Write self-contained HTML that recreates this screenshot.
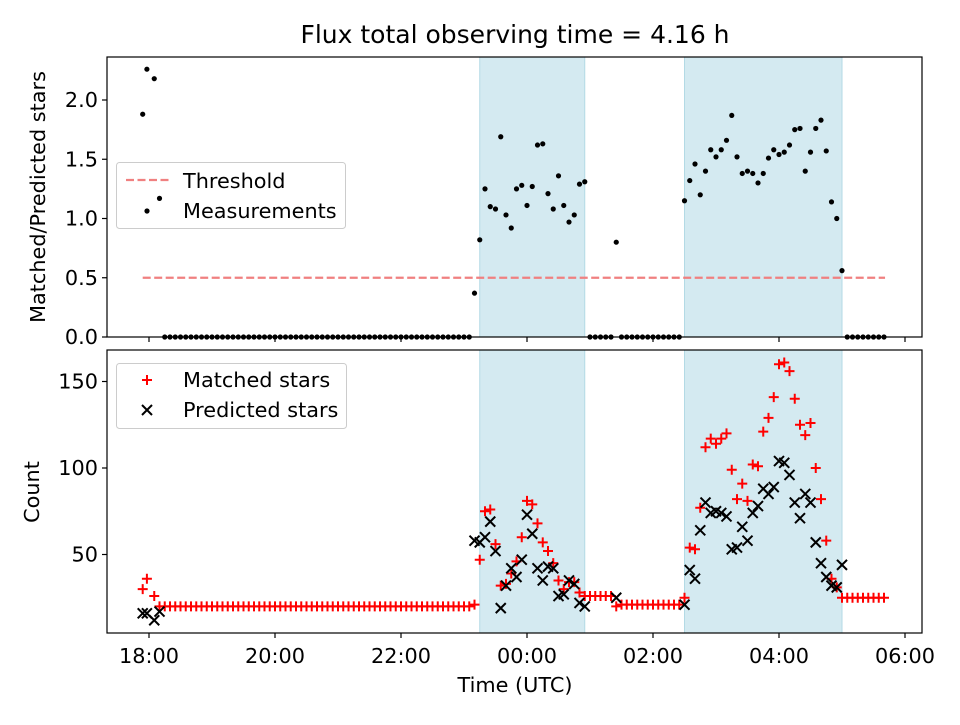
<!DOCTYPE html>
<html><head><meta charset="utf-8"><style>
html,body{margin:0;padding:0;background:#fff;}
svg text{font-family:"DejaVu Sans","Liberation Sans",sans-serif;}
</style></head><body>
<svg id="fig" width="960" height="720" xmlns="http://www.w3.org/2000/svg"></svg>
<script>
// time in minutes since 18:00 UTC
const measTimes = [-6,-2,5,10,
15,20,25,30,35,40,45,50,55,60,
65,70,75,80,85,90,95,100,105,110,
115,120,125,130,135,140,145,150,155,160,
165,170,175,180,185,190,195,200,205,210,
215,220,225,230,235,240,245,250,255,260,
265,270,275,280,285,290,295,300,305,
310,315,320,325,330,335,340,345,350,355,
360,365,370,375,380,385,390,395,400,405,
410,415,
420,425,430,435,440,445,450,455,460,465,
470,475,480,485,490,495,500,505,
510,515,520,525,530,535,540,545,550,555,
560,565,570,575,580,585,590,595,600,605,
610,615,620,625,630,635,640,645,650,655,
660,
665,670,675,680,685,690,695,700];
const ratioVals = [1.88,2.26,2.18,1.17,
0,0,0,0,0,0,0,0,0,0,
0,0,0,0,0,0,0,0,0,0,
0,0,0,0,0,0,0,0,0,0,
0,0,0,0,0,0,0,0,0,0,
0,0,0,0,0,0,0,0,0,0,
0,0,0,0,0,0,0,0,0,
0.37,0.82,1.25,1.10,1.08,1.69,1.03,0.92,1.25,1.28,
1.11,1.27,1.62,1.63,1.21,1.08,1.36,1.11,0.97,1.03,
1.29,1.31,
0,0,0,0,0,0.80,0,0,0,0,
0,0,0,0,0,0,0,0,
1.15,1.32,1.46,1.20,1.40,1.58,1.52,1.58,1.66,1.87,
1.52,1.38,1.40,1.38,1.30,1.38,1.51,1.58,1.54,1.56,
1.62,1.75,1.76,1.40,1.56,1.76,1.83,1.57,1.14,1.00,
0.56,
0,0,0,0,0,0,0,0];
const matchedVals = [30,36,26,20,
20,20,20,20,20,20,20,20,20,20,
20,20,20,20,20,20,20,20,20,20,
20,20,20,20,20,20,20,20,20,20,
20,20,20,20,20,20,20,20,20,20,
20,20,20,20,20,20,20,20,20,20,
20,20,20,20,20,20,20,20,20,
21,47,75,76,56,32,33,39,46,60,
81,79,68,57,52,45,35,30,34,34,
28,26,
26,26,26,26,26,20,21,21,21,21,
21,21,21,21,21,21,21,21,
25,54,53,77,112,117,114,117,120,99,
82,91,81,102,101,121,129,141,160,161,
156,140,125,119,126,100,82,58,36,31,
25,
25,25,25,25,25,25,25,25];
const predictedVals = [16,16,12,17,
null,null,null,null,null,null,null,null,null,null,
null,null,null,null,null,null,null,null,null,null,
null,null,null,null,null,null,null,null,null,null,
null,null,null,null,null,null,null,null,null,null,
null,null,null,null,null,null,null,null,null,null,
null,null,null,null,null,null,null,null,null,
58,57,60,69,52,19,32,42,37,47,
73,62,42,35,43,42,26,27,35,33,
22,20,
null,null,null,null,null,25,null,null,null,null,
null,null,null,null,null,null,null,null,
21,41,36,64,80,74,75,74,72,53,
54,66,58,74,78,88,85,89,104,103,
96,80,71,85,80,57,45,37,32,31,
44,
null,null,null,null,null,null,null,null];
const shadeSpans = [[315,415],[510,660]];
const thresholdVal = 0.5;
const thresholdRange = [-6,701];
const xTickVals = [0,120,240,360,480,600,720];
const xTickLabels = ["18:00","20:00","22:00","00:00","02:00","04:00","06:00"];
const topYTicks = [0,0.5,1.0,1.5,2.0];
const topYLabels = ["0.0","0.5","1.0","1.5","2.0"];
const botYTicks = [50,100,150];
const botYLabels = ["50","100","150"];

const NS="http://www.w3.org/2000/svg";
const svg=document.getElementById('fig');
function el(tag,attrs,parent){const e=document.createElementNS(NS,tag);for(const k in attrs)e.setAttribute(k,attrs[k]);(parent||svg).appendChild(e);return e;}
const L=107,R=922;
const FS='20.8';
const X=t=>149+t*1.05;
const topA={t:57,b:337}, botA={t:350,b:633};
const Yt=v=>337-v*118.5;
const Yb=v=>641-v*1.73;

function panel(A,name){
  const g=el('g',{});
  
  
  shadeSpans.forEach((s,i)=>{
    const r=el('rect',{x:X(s[0]),y:A.t,width:X(s[1])-X(s[0]),height:A.b-A.t,fill:'#d4eaf1',stroke:'#b3dae5','stroke-width':1},g);
    
    
  });
  return g;
}
function frame(A,g){
  const r=el('rect',{x:L,y:A.t,width:R-L,height:A.b-A.t,fill:'none',stroke:'#000','stroke-width':1.2},g);
  
  
  xTickVals.forEach(t=>{el('line',{x1:X(t),x2:X(t),y1:A.b,y2:A.b+5,stroke:'#000','stroke-width':1.2},g);});
}
const title=el('text',{x:515,y:43,'text-anchor':'middle','font-size':'25'});
title.textContent='Flux total observing time = 4.16 h';



// TOP PANEL
const gt=panel(topA,'ratio-panel');
const th=el('line',{x1:X(thresholdRange[0]),x2:X(thresholdRange[1]),y1:Yt(thresholdVal),y2:Yt(thresholdVal),stroke:'#f08080','stroke-width':2.2,'stroke-dasharray':'8,3.5'},gt);


frame(topA,gt);
topYTicks.forEach((v,i)=>{
  el('line',{x1:L-5,x2:L,y1:Yt(v),y2:Yt(v),stroke:'#000','stroke-width':1.2},gt);
  const tx=el('text',{x:L-9,y:Yt(v)+7,'text-anchor':'end','font-size':FS},gt);
  tx.textContent=topYLabels[i];
  
  
});
const yt=el('text',{x:45,y:197,'text-anchor':'middle','font-size':FS,transform:'rotate(-90 45 197)'});
yt.textContent='Matched/Predicted stars';


const lg1=el('g',{});


el('rect',{x:116.5,y:162.5,width:229,height:66,rx:3,fill:'#fff','fill-opacity':0.8,stroke:'#ccc'},lg1);
el('line',{x1:126,x2:172,y1:180,y2:180,stroke:'#f08080','stroke-width':2.2,'stroke-dasharray':'8,3.5'},lg1);
let t1=el('text',{x:183,y:188,'font-size':FS},lg1);t1.textContent='Threshold';


el('circle',{cx:147,cy:211,r:2.6,fill:'#000'},lg1);
let t2=el('text',{x:183,y:218,'font-size':FS},lg1);t2.textContent='Measurements';


measTimes.forEach((t,i)=>{
  const c=el('circle',{cx:X(t),cy:Yt(ratioVals[i]),r:2.6,fill:'#000'});
  
  
});

// BOTTOM PANEL
const gb=panel(botA,'count-panel');
function plus(x,y,g){return el('path',{d:`M${x-5},${y}H${x+5}M${x},${y-5}V${y+5}`,stroke:'#ff0000','stroke-width':2,fill:'none'},g);}
function cross(x,y,g){return el('path',{d:`M${x-5},${y-5}L${x+5},${y+5}M${x-5},${y+5}L${x+5},${y-5}`,stroke:'#000','stroke-width':2,fill:'none'},g);}
measTimes.forEach((t,i)=>{
  const p=plus(X(t),Yb(matchedVals[i]),gb);
  
  
});
measTimes.forEach((t,i)=>{
  if(predictedVals[i]===null)return;
  const p=cross(X(t),Yb(predictedVals[i]),gb);
  
  
});
frame(botA,gb);
botYTicks.forEach((v,i)=>{
  el('line',{x1:L-5,x2:L,y1:Yb(v),y2:Yb(v),stroke:'#000','stroke-width':1.2},gb);
  const tx=el('text',{x:L-9,y:Yb(v)+7,'text-anchor':'end','font-size':FS},gb);
  tx.textContent=botYLabels[i];
  
  
});
xTickVals.forEach((t,i)=>{
  const tx=el('text',{x:X(t),y:663,'text-anchor':'middle','font-size':FS},gb);
  tx.textContent=xTickLabels[i];
  
  
});
const xl=el('text',{x:515,y:692,'text-anchor':'middle','font-size':FS});
xl.textContent='Time (UTC)';


const yb=el('text',{x:39,y:492,'text-anchor':'middle','font-size':FS,transform:'rotate(-90 39 492)'});
yb.textContent='Count';


const lg2=el('g',{});


el('rect',{x:116.5,y:363.5,width:230,height:65,rx:3,fill:'#fff','fill-opacity':0.8,stroke:'#ccc'},lg2);
plus(147,380,lg2);
let t3=el('text',{x:183,y:387,'font-size':FS},lg2);t3.textContent='Matched stars';


cross(147,410,lg2);
let t4=el('text',{x:183,y:417,'font-size':FS},lg2);t4.textContent='Predicted stars';


</script>
</body></html>
